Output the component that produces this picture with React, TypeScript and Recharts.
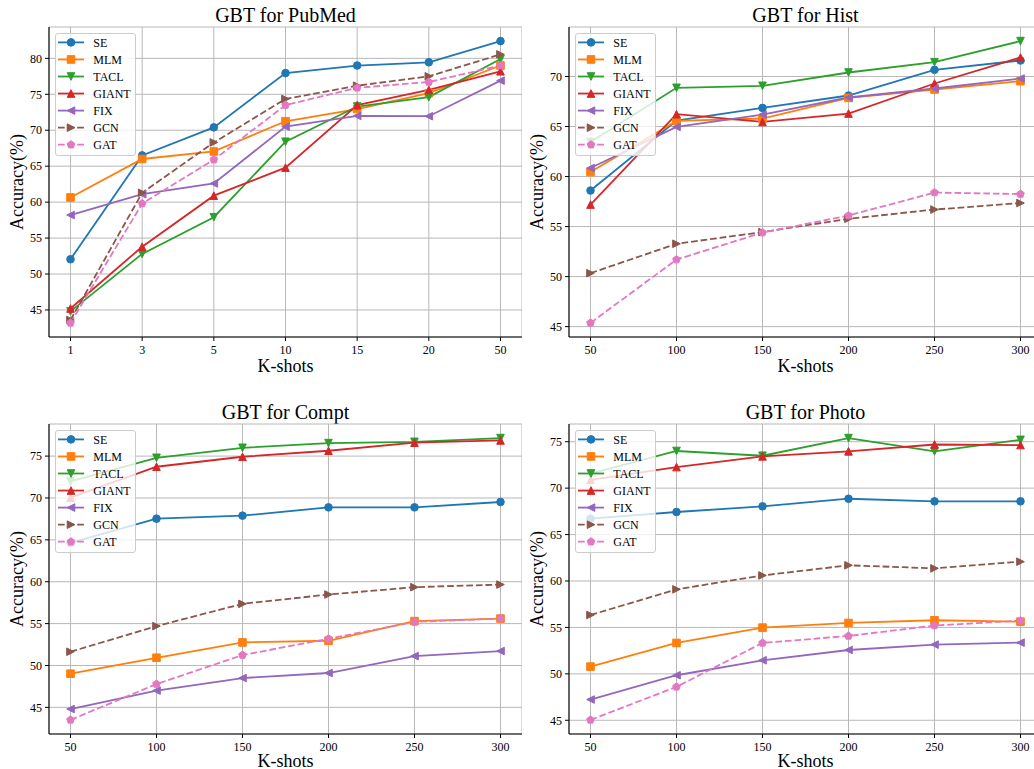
import React from 'react';
import { LineChart, Line, XAxis, YAxis, CartesianGrid, Legend } from 'recharts';

const FONT = '"Liberation Serif", "Times New Roman", Times, serif';

const seriesNames = ['SE', 'MLM', 'TACL', 'GIANT', 'FIX', 'GCN', 'GAT'];
const seriesColors = ['#1f77b4', '#ff7f0e', '#2ca02c', '#d62728', '#9467bd', '#8c564b', '#e377c2'];
const seriesMarkers = ['circle', 'square', 'triangleDown', 'triangleUp', 'triangleLeft', 'triangleRight', 'pentagon'];
const seriesDashed = [false, false, false, false, false, true, true];

const pubmedK = ['1', '3', '5', '10', '15', '20', '50'];
const largeK = ['50', '100', '150', '200', '250', '300'];

const yTicksPubmed = [45, 50, 55, 60, 65, 70, 75, 80];
const yTicksHist = [45, 50, 55, 60, 65, 70];
const yTicksCompt = [45, 50, 55, 60, 65, 70, 75];
const yTicksPhoto = [45, 50, 55, 60, 65, 70, 75];

// PubMed
const pubmedSE = [52.05, 66.5, 70.4, 77.95, 79.0, 79.45, 82.4];
const pubmedMLM = [60.65, 66.0, 67.05, 71.25, 72.95, 75.15, 79.0];
const pubmedTACL = [44.8, 52.8, 57.9, 68.4, 73.3, 74.6, 79.9];
const pubmedGIANT = [45.2, 53.8, 60.9, 64.8, 73.5, 75.6, 78.2];
const pubmedFIX = [58.2, 61.1, 62.6, 70.5, 72.0, 71.95, 76.9];
const pubmedGCN = [43.6, 61.3, 68.3, 74.35, 76.2, 77.5, 80.55];
const pubmedGAT = [43.2, 59.8, 65.9, 73.5, 75.9, 76.7, 79.0];

// Hist
const histSE = [58.6, 65.6, 66.86, 68.1, 70.67, 71.6];
const histMLM = [60.45, 65.56, 65.8, 67.86, 68.7, 69.53];
const histTACL = [63.46, 68.87, 69.07, 70.4, 71.43, 73.54];
const histGIANT = [57.2, 66.23, 65.46, 66.3, 69.3, 71.9];
const histFIX = [60.85, 64.96, 66.2, 67.9, 68.8, 69.8];
const histGCN = [50.34, 53.28, 54.45, 55.78, 56.7, 57.35];
const histGAT = [45.37, 51.7, 54.4, 56.1, 58.4, 58.25];

// Compt
const comptSE = [64.63, 67.53, 67.89, 68.88, 68.88, 69.52];
const comptMLM = [49.02, 50.92, 52.75, 52.95, 55.3, 55.6];
const comptTACL = [71.98, 74.8, 75.99, 76.55, 76.7, 77.15];
const comptGIANT = [70.03, 73.73, 74.92, 75.64, 76.6, 76.87];
const comptFIX = [44.8, 47.0, 48.5, 49.1, 51.12, 51.72];
const comptGCN = [51.64, 54.7, 57.36, 58.47, 59.35, 59.66];
const comptGAT = [43.5, 47.78, 51.24, 53.19, 55.2, 55.6];

// Photo
const photoSE = [66.71, 67.43, 68.04, 68.86, 68.58, 68.58];
const photoMLM = [50.78, 53.33, 54.98, 55.48, 55.77, 55.62];
const photoTACL = [71.56, 74.0, 73.49, 75.39, 73.96, 75.2];
const photoGIANT = [70.9, 72.27, 73.42, 73.96, 74.7, 74.64];
const photoFIX = [47.23, 49.85, 51.46, 52.57, 53.15, 53.36];
const photoGCN = [56.34, 59.1, 60.6, 61.69, 61.36, 62.08];
const photoGAT = [45.04, 48.6, 53.33, 54.08, 55.2, 55.73];

const MARKER = 7.6;

function markerShape(shape: string, cx: number, cy: number, color: string, key?: string) {
  const s = MARKER;
  const h = s / 2;
  const common = { fill: color, stroke: color, strokeWidth: 1 } as any;
  if (shape === 'circle') return <circle key={key} cx={cx} cy={cy} r={h} {...common} />;
  let d = '';
  if (shape === 'square') d = `M${cx - h},${cy - h}h${s}v${s}h${-s}Z`;
  else if (shape === 'triangleUp') d = `M${cx},${cy - h}L${cx - h},${cy + h}L${cx + h},${cy + h}Z`;
  else if (shape === 'triangleDown') d = `M${cx},${cy + h}L${cx - h},${cy - h}L${cx + h},${cy - h}Z`;
  else if (shape === 'triangleLeft') d = `M${cx - h},${cy}L${cx + h},${cy - h}L${cx + h},${cy + h}Z`;
  else if (shape === 'triangleRight') d = `M${cx + h},${cy}L${cx - h},${cy - h}L${cx - h},${cy + h}Z`;
  else if (shape === 'pentagon') {
    const pts = [0, 1, 2, 3, 4].map((i) => {
      const a = (-90 + 72 * i) * (Math.PI / 180);
      return `${cx + h * 1.05 * Math.cos(a)},${cy + h * 1.05 * Math.sin(a)}`;
    });
    d = `M${pts.join('L')}Z`;
  }
  return <path key={key} d={d} {...common} />;
}

const LEG_W = 81;
const LEG_H = 123;
const DASH = '6.7 2.9';

function LegendBox() {
  return (
    <div
      style={{
        width: LEG_W,
        height: LEG_H,
        border: '1px solid #cccccc',
        borderRadius: 3,
        background: 'rgba(255,255,255,0.8)',
        boxSizing: 'border-box',
      }}
    >
      <svg width={LEG_W - 2} height={LEG_H - 2} style={{ display: 'block' }}>
        {seriesNames.map((n, i) => {
          const y = 8.4 + i * 17.05;
          const c = seriesColors[i];
          return (
            <g key={n}>
              <line
                x1={2}
                x2={28}
                y1={y}
                y2={y}
                stroke={c}
                strokeWidth={1.8}
                strokeDasharray={seriesDashed[i] ? DASH : undefined}
              />
              {markerShape(seriesMarkers[i], 15, y, c)}
              <text x={37.3} y={y + 4.2} style={{ fontSize: 12, fontFamily: FONT }} fill="#000">
                {n}
              </text>
            </g>
          );
        })}
      </svg>
    </div>
  );
}

function domainOf(arrs: number[][]): [number, number] {
  const all = arrs.flat();
  const mn = Math.min(...all);
  const mx = Math.max(...all);
  const m = (mx - mn) * 0.05;
  return [mn - m, mx + m];
}

type PanelProps = {
  title: string;
  ks: string[];
  series: number[][];
  yTicks: number[];
  left: number;
  top: number;
  mt: number;
  xLabelOffset: number;
};

const Y_AXIS_W = 49;
const PLOT_W = 473;
const PLOT_H = 310;
const X_AXIS_H = 40;
const XPAD = 21.5;

function XTick(p: any) {
  return (
    <text x={p.x} y={p.y} dy="0.71em" textAnchor="middle" style={{ fontSize: 12, fontFamily: FONT }} fill="#000">
      {p.payload.value}
    </text>
  );
}

function YTick(p: any) {
  return (
    <text x={p.x} y={p.y} dy="0.355em" textAnchor="end" style={{ fontSize: 12, fontFamily: FONT }} fill="#000">
      {p.payload.value}
    </text>
  );
}

function Panel({ title, ks, series, yTicks, left, top, mt, xLabelOffset }: PanelProps) {
  const data = ks.map((k, i) => {
    const row: any = { k };
    seriesNames.forEach((n, j) => {
      row[n] = series[j][i];
    });
    return row;
  });
  const domain = domainOf(series);
  const width = Y_AXIS_W + PLOT_W;
  const height = mt + PLOT_H + X_AXIS_H;
  return (
    <div style={{ position: 'absolute', left, top, width, height, fontFamily: FONT }}>
      <svg
        width={width}
        height={mt}
        style={{ position: 'absolute', left: 0, top: 0, overflow: 'visible' }}
      >
        <text
          x={Y_AXIS_W + PLOT_W / 2}
          y={mt - 5.5}
          textAnchor="middle"
          style={{ fontSize: 20, fontFamily: FONT }}
          fill="#000"
        >
          {title}
        </text>
      </svg>
      <LineChart
        width={width}
        height={height}
        data={data}
        margin={{ top: mt, right: 0, bottom: 0, left: 0 }}
        style={{ fontFamily: FONT }}
      >
        <CartesianGrid stroke="#b8b8b8" strokeWidth={1} />
        <XAxis
          dataKey="k"
          type="category"
          interval={0}
          padding={{ left: XPAD, right: XPAD }}
          height={X_AXIS_H}
          tick={<XTick />}
          tickSize={4}
          tickMargin={4}
          tickLine={{ stroke: '#000' }}
          axisLine={{ stroke: '#000', strokeWidth: 1.1 }}
          label={{
            value: 'K-shots',
            content: (p: any) => {
              const vb = p.viewBox;
              return (
                <text
                  x={vb.x + vb.width / 2}
                  y={vb.y + xLabelOffset}
                  textAnchor="middle"
                  style={{ fontSize: 18, fontFamily: FONT }}
                  fill="#000"
                >
                  K-shots
                </text>
              );
            },
          }}
        />
        <XAxis
          xAxisId="top"
          orientation="top"
          dataKey="k"
          type="category"
          height={0}
          tick={false}
          tickLine={false}
          axisLine={{ stroke: '#000', strokeWidth: 1.1 }}
        />
        <YAxis
          type="number"
          domain={domain}
          allowDataOverflow
          ticks={yTicks}
          width={Y_AXIS_W}
          tick={<YTick />}
          tickSize={4}
          tickMargin={3}
          tickLine={{ stroke: '#000' }}
          axisLine={{ stroke: '#000', strokeWidth: 1.1 }}
          label={{
            value: 'Accuracy(%)',
            content: (p: any) => {
              const vb = p.viewBox;
              const x = vb.x + 22.5;
              const y = vb.y + vb.height / 2;
              return (
                <text
                  x={x}
                  y={y}
                  transform={`rotate(-90, ${x}, ${y})`}
                  textAnchor="middle"
                  style={{ fontSize: 18, fontFamily: FONT }}
                  fill="#000"
                >
                  Accuracy(%)
                </text>
              );
            },
          }}
        />
        <YAxis
          yAxisId="right"
          orientation="right"
          width={0}
          tick={false}
          tickLine={false}
          axisLine={{ stroke: '#000', strokeWidth: 1.1 }}
        />
        {seriesNames.map((n, i) => (
          <Line
            key={n}
            type="linear"
            dataKey={n}
            name={n}
            stroke={seriesColors[i]}
            strokeWidth={1.8}
            strokeDasharray={seriesDashed[i] ? DASH : undefined}
            dot={(p: any) => markerShape(seriesMarkers[i], p.cx, p.cy, seriesColors[i], `${n}-${p.index}`)}
            activeDot={false}
            isAnimationActive={false}
          />
        ))}
        <Legend
          layout="vertical"
          align="center"
          verticalAlign="middle"
          content={() => <LegendBox />}
          wrapperStyle={{ position: 'absolute', left: Y_AXIS_W + 6, top: mt + 6.3, width: LEG_W, height: LEG_H, bottom: 'auto', right: 'auto' }}
        />
      </LineChart>
    </div>
  );
}

export default function App() {
  return (
    <div
      style={{
        position: 'fixed',
        left: 0,
        top: 0,
        width: 1034,
        height: 769,
        overflow: 'hidden',
        background: '#fff',
      }}
    >
      <Panel
        title="GBT for PubMed"
        ks={pubmedK}
        series={[pubmedSE, pubmedMLM, pubmedTACL, pubmedGIANT, pubmedFIX, pubmedGCN, pubmedGAT]}
        yTicks={yTicksPubmed}
        left={0}
        top={0}
        mt={27}
        xLabelOffset={35}
      />
      <Panel
        title="GBT for Hist"
        ks={largeK}
        series={[histSE, histMLM, histTACL, histGIANT, histFIX, histGCN, histGAT]}
        yTicks={yTicksHist}
        left={520}
        top={0}
        mt={27}
        xLabelOffset={35}
      />
      <Panel
        title="GBT for Compt"
        ks={largeK}
        series={[comptSE, comptMLM, comptTACL, comptGIANT, comptFIX, comptGCN, comptGAT]}
        yTicks={yTicksCompt}
        left={0}
        top={390}
        mt={34}
        xLabelOffset={32.5}
      />
      <Panel
        title="GBT for Photo"
        ks={largeK}
        series={[photoSE, photoMLM, photoTACL, photoGIANT, photoFIX, photoGCN, photoGAT]}
        yTicks={yTicksPhoto}
        left={520}
        top={390}
        mt={34}
        xLabelOffset={32.5}
      />
    </div>
  );
}
